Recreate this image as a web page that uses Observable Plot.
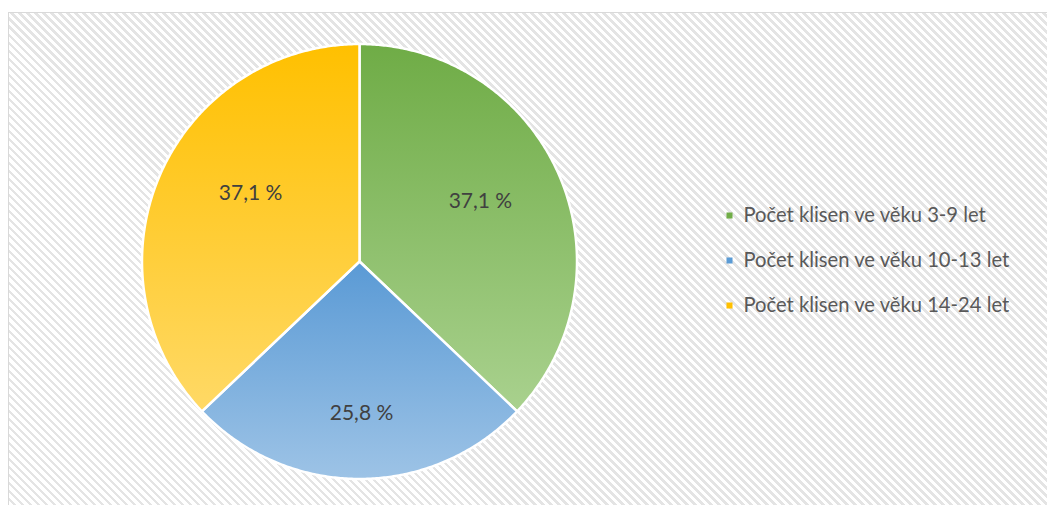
<!DOCTYPE html>
<html>
<head>
<meta charset="utf-8">
<script src="https://cdn.jsdelivr.net/npm/d3@7"></script>
<script src="https://cdn.jsdelivr.net/npm/@observablehq/plot@0.6"></script>
<style>
  html, body { margin: 0; padding: 0; background: #fff; }
  #wrap { position: relative; width: 1047px; height: 505px; overflow: hidden; }
  #bg {
    position: absolute; left: 8px; top: 12px; width: 1100px; height: 600px;
    border-left: 1.5px solid #d9d9d9; border-top: 1.5px solid #d9d9d9;
    background: repeating-linear-gradient(45deg, #e4e4e4 0px, #e4e4e4 2.6px, #ffffff 2.6px, #ffffff 5.66px);
  }
  #chart { position: absolute; left: 0; top: 0; }
</style>
</head>
<body>
<div id="wrap">
  <div id="bg"></div>
  <svg width="0" height="0" style="position:absolute">
    <defs>
      <linearGradient id="gGreen" x1="0" y1="0" x2="0" y2="1">
        <stop offset="0" stop-color="#6fac46"/>
        <stop offset="1" stop-color="#a9d18e"/>
      </linearGradient>
      <linearGradient id="gBlue" x1="0" y1="0" x2="0" y2="1">
        <stop offset="0" stop-color="#5a9ad5"/>
        <stop offset="1" stop-color="#9dc3e6"/>
      </linearGradient>
      <linearGradient id="gYellow" x1="0" y1="0" x2="0" y2="1">
        <stop offset="0" stop-color="#ffc000"/>
        <stop offset="1" stop-color="#ffd966"/>
      </linearGradient>
    </defs>
  </svg>
  <div id="chart"></div>
</div>
<script>
// ---- data ----
const categories = ["Počet klisen ve věku 3-9 let", "Počet klisen ve věku 10-13 let", "Počet klisen ve věku 14-24 let"];
const shares = [37.1, 25.8, 37.1];
const labels = ["37,1 %", "25,8 %", "37,1 %"];

// ---- styling / layout ----
const fills = ["url(#gGreen)", "url(#gBlue)", "url(#gYellow)"];
const swatch = ["#70ad47", "#5b9bd5", "#ffc000"];
const W = 1047, H = 505;
const cx = 359, cy = 261, R = 217.5;
const labelNudge = [[-9, -4], [2, 10], [21, -12]];
const legendX = 729, legendY0 = 215, legendStep = 45;

const pie = d3.pie().sort(null).value(d => d)(shares);

function slicePoints(s) {
  const pts = [{x: cx, y: cy}];
  const n = Math.max(2, Math.ceil((s.endAngle - s.startAngle) / (Math.PI / 360)));
  for (let k = 0; k <= n; k++) {
    const a = s.startAngle + (s.endAngle - s.startAngle) * k / n;
    pts.push({x: cx + R * Math.sin(a), y: cy - R * Math.cos(a)});
  }
  return pts;
}

const sliceMarks = pie.map((s, i) =>
  Plot.line(slicePoints(s), {
    x: "x", y: "y", curve: "linear-closed",
    fill: fills[i], stroke: "#ffffff", strokeWidth: 2.5, strokeLinejoin: "round"
  })
);

const labelData = pie.map((s, i) => {
  const a = (s.startAngle + s.endAngle) / 2;
  const r = 0.65 * R;
  return {
    x: cx + r * Math.sin(a) + labelNudge[i][0],
    y: cy - r * Math.cos(a) + labelNudge[i][1],
    t: labels[i]
  };
});

const legendData = categories.map((c, i) => ({x: legendX, y: legendY0 + i * legendStep, c, col: swatch[i]}));

const chart = Plot.plot({
  width: W, height: H,
  margin: 0,
  x: {domain: [0, W], range: [0, W], axis: null},
  y: {domain: [0, H], range: [0, H], axis: null},
  style: {background: "transparent", overflow: "visible"},
  marks: [
    ...sliceMarks,
    Plot.text(labelData, {
      x: "x", y: "y", text: "t", fill: "#404040",
      fontSize: 21, fontFamily: "Lato, 'Open Sans', sans-serif"
    }),
    Plot.dot(legendData, {
      x: "x", y: "y", symbol: "square", r: 3.4, fill: "col", stroke: "none"
    }),
    Plot.text(legendData, {
      x: "x", y: "y", text: "c", dx: 14, textAnchor: "start", fill: "#595959",
      fontSize: 20.2, fontFamily: "Lato, 'Open Sans', sans-serif"
    })
  ]
});
document.getElementById("chart").appendChild(chart);
</script>
</body>
</html>
